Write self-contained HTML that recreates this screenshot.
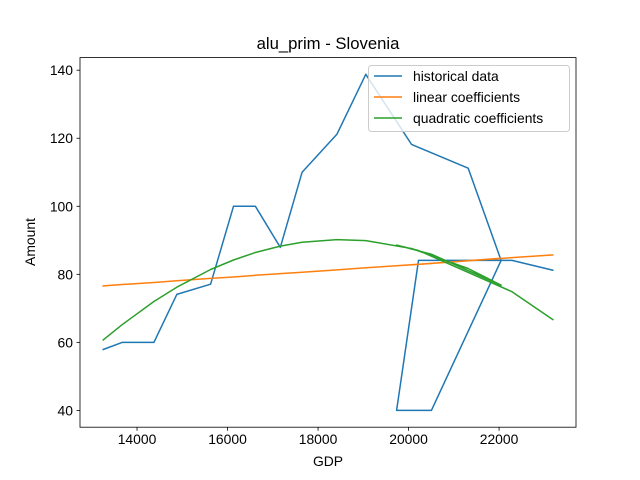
<!DOCTYPE html>
<html><head><meta charset="utf-8"><style>body{margin:0;background:#fff}svg{display:block;font-family:"Liberation Sans","DejaVu Sans",sans-serif}</style></head>
<body>
<svg id="c" width="640" height="480"></svg>
<script>
const gdp=[13253,13670,14374,14879,15626,16132,16615,17165,17648,18418,19055,20066,21319,22044,20505,19736,20220,22286,23187];
const historical=[57.9,60,60,74.1,77.1,100,100,87.9,110,121.2,138.8,118.2,111.2,84.1,40,40,84.1,84.1,81.2];
const linear=[76.6,77.0,77.6,78.1,78.8,79.2,79.7,80.2,80.6,81.3,81.9,82.8,84.0,84.7,83.2,82.5,82.9,84.9,85.7];
const quadratic=[60.7,65.2,72.0,76.2,81.4,84.2,86.4,88.3,89.4,90.2,89.9,87.6,81.7,76.8,85.9,88.6,87.0,74.9,66.7];
const xTicks=[14000,16000,18000,20000,22000];
const yTicks=[40,60,80,100,120,140];
const L=80,R=576,T=57.6,B=427.2;
const xmin=12740,xmax=23700,ymin=35.06,ymax=143.7;
const sx=v=>L+(v-xmin)/(xmax-xmin)*(R-L);
const sy=v=>B-(v-ymin)/(ymax-ymin)*(B-T);
const NS="http://www.w3.org/2000/svg",svg=document.getElementById('c');
function mk(t,a,p){const e=document.createElementNS(NS,t);for(const k in a)e.setAttribute(k,a[k]);(p||svg).appendChild(e);return e;}
function line(ys,col,name){const d=gdp.map((x,i)=>(i?'L':'M')+sx(x).toFixed(1)+' '+sy(ys[i]).toFixed(1)).join('');
const p=mk('path',{d:d,fill:'none',stroke:col,'stroke-width':1.5,'stroke-linejoin':'round','stroke-linecap':'square'});

}
line(historical,'#1f77b4','historical-line');
line(linear,'#ff7f0e','linear-line');
line(quadratic,'#2ca02c','quadratic-line');
const fr=mk('rect',{x:L,y:T,width:R-L,height:B-T,fill:'none',stroke:'#000','stroke-width':0.8});


xTicks.forEach(v=>{const x=sx(v);mk('line',{x1:x,x2:x,y1:B,y2:B+3.5,stroke:'#000','stroke-width':0.8});
const t=mk('text',{x:x,y:B+17,'text-anchor':'middle','font-size':13.9,fill:'#000'});t.textContent=v;

});
yTicks.forEach(v=>{const y=sy(v);mk('line',{x1:L,x2:L-3.5,y1:y,y2:y,stroke:'#000','stroke-width':0.8});
const t=mk('text',{x:L-7,y:y+5,'text-anchor':'end','font-size':13.9,fill:'#000'});t.textContent=v;

});
</script>
<svg width="640" height="480" style="position:absolute;left:0;top:0;font-family:'Liberation Sans','DejaVu Sans',sans-serif">
<text x="328" y="49" text-anchor="middle" font-size="16.7">alu_prim - Slovenia</text>
<text x="328" y="466" text-anchor="middle" font-size="13.9">GDP</text>
<text x="35" y="242" text-anchor="middle" font-size="13.9" transform="rotate(-90 35 242)">Amount</text>
<g>
<rect x="368.5" y="65.5" width="201" height="66" rx="3" fill="#fff" fill-opacity="0.8" stroke="#ccc"/>
<line x1="374" x2="402" y1="76" y2="76" stroke="#1f77b4" stroke-width="1.5"/>
<text x="413" y="81" font-size="13.9">historical data</text>
<line x1="374" x2="402" y1="97" y2="97" stroke="#ff7f0e" stroke-width="1.5"/>
<text x="413" y="102" font-size="13.9">linear coefficients</text>
<line x1="374" x2="402" y1="118" y2="118" stroke="#2ca02c" stroke-width="1.5"/>
<text x="413" y="123" font-size="13.9">quadratic coefficients</text>
</g>
</svg>
</body></html>
